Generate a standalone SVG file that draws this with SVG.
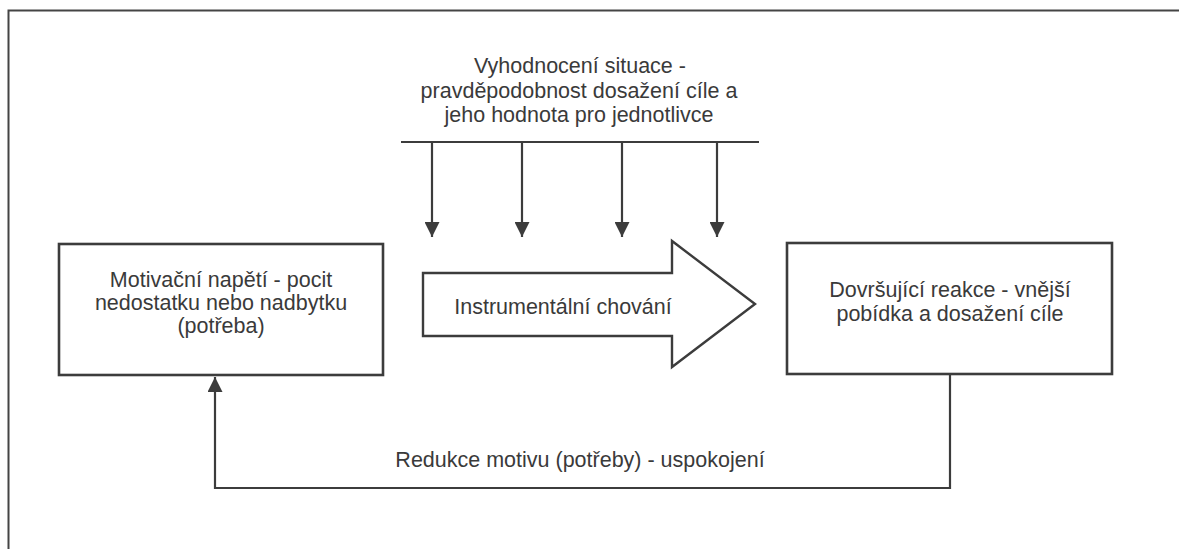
<svg xmlns="http://www.w3.org/2000/svg" width="1179" height="549" viewBox="0 0 1179 549">
<defs>
<style>
.ln{fill:none;stroke:#3c3c3c;stroke-width:2.2}
.bx{fill:#fff;stroke:#3c3c3c;stroke-width:2.6}
.t{font-family:"Liberation Sans",Arial,sans-serif;font-size:21.5px;fill:#3a3a3a;text-anchor:middle}
</style>
<marker id="ah" viewBox="0 0 16 15" refX="15" refY="7.5" markerWidth="16" markerHeight="15" markerUnits="userSpaceOnUse" orient="auto">
<path d="M0,0 L15,7.5 L0,15 Z" fill="#3c3c3c"/>
</marker>
</defs>
<rect width="1179" height="549" fill="#fff"/>
<path d="M8.5,549 V10.5 H1179" fill="none" stroke="#444" stroke-width="2"/>
<g id="top-label">
<text class="t" x="580" y="73">Vyhodnocení situace -</text>
<text class="t" x="579" y="98">pravděpodobnost dosažení cíle a</text>
<text class="t" x="579" y="122">jeho hodnota pro jednotlivce</text>
</g>
<g id="connectors">
<line class="ln" x1="401" y1="142" x2="759" y2="142"/>
<line class="ln" x1="432" y1="142" x2="432" y2="237" marker-end="url(#ah)"/>
<line class="ln" x1="522" y1="142" x2="522" y2="237" marker-end="url(#ah)"/>
<line class="ln" x1="622" y1="142" x2="622" y2="237" marker-end="url(#ah)"/>
<line class="ln" x1="717" y1="142" x2="717" y2="237" marker-end="url(#ah)"/>
<path class="ln" d="M950,374 V488 H215 V377" marker-end="url(#ah)"/>
<text class="t" x="580" y="467">Redukce motivu (potřeby) - uspokojení</text>
</g>
<g id="instrumental">
<path d="M423,273 H672 V241 L755,304 L672,367 V336 H423 Z" fill="#fff" stroke="#3c3c3c" stroke-width="2.4" stroke-linejoin="miter"/>
<text class="t" x="563" y="314">Instrumentální chování</text>
</g>
<g id="need">
<rect class="bx" x="59" y="244" width="324" height="131"/>
<text class="t" x="221" y="287">Motivační napětí - pocit</text>
<text class="t" x="221" y="310">nedostatku nebo nadbytku</text>
<text class="t" x="221" y="333">(potřeba)</text>
</g>
<g id="consummation">
<rect class="bx" x="787" y="243" width="325" height="131"/>
<text class="t" x="950" y="297">Dovršující reakce - vnější</text>
<text class="t" x="950" y="321">pobídka a dosažení cíle</text>
</g>
</svg>
